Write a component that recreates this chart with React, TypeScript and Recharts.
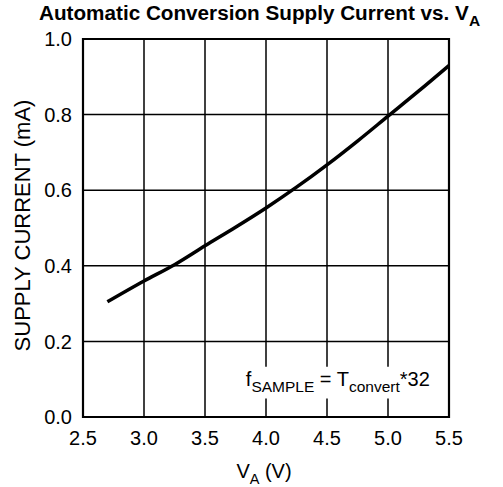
import { LineChart, Line, XAxis, YAxis, CartesianGrid, ReferenceArea } from "recharts";

const voltage = [2.7, 3.0, 3.25, 3.5, 3.75, 4.0, 4.25, 4.5, 4.75, 5.0, 5.25, 5.5];
const supplyCurrent = [0.305, 0.36, 0.403, 0.453, 0.502, 0.553, 0.608, 0.667, 0.73, 0.796, 0.862, 0.93];
const xTicks = [2.5, 3.0, 3.5, 4.0, 4.5, 5.0, 5.5];
const yTicks = [0, 0.2, 0.4, 0.6, 0.8, 1.0];

const data = voltage.map((v, i) => ({ v, i: supplyCurrent[i] }));
const FONT = "Arial, 'Liberation Sans', Helvetica, sans-serif";

function NoteLabel({ viewBox }: any) {
  const x = viewBox.x + 3;
  const y = viewBox.y + viewBox.height - 12;
  return (
    <text x={x} y={y} fontFamily={FONT} fontSize={20} fill="#000">
      <tspan>f</tspan>
      <tspan fontSize={15.5} dy={6}>SAMPLE</tspan>
      <tspan dy={-6}> = T</tspan>
      <tspan fontSize={15.5} dy={6}>convert</tspan>
      <tspan dy={-6}>*32</tspan>
    </text>
  );
}

export default function App() {
  return (
    <div style={{ position: "absolute", left: 0, top: 0, width: 503, height: 487, background: "#fff" }}>
      <svg width={503} height={487} style={{ position: "absolute", left: 0, top: 0 }}>
        <text x={39} y={19.5} fontFamily={FONT} fontSize={20.7} fontWeight="bold" fill="#000">
          Automatic Conversion Supply Current vs. V
          <tspan fontSize={15.5} dy={6}>A</tspan>
        </text>
        <text x={264} y={478} fontFamily={FONT} fontSize={20} textAnchor="middle" fill="#000">
          V<tspan fontSize={14.5} dy={6}>A</tspan>
          <tspan dy={-6}> (V)</tspan>
        </text>
        <text
          x={0}
          y={0}
          transform="translate(30,225.5) rotate(-90)"
          fontFamily={FONT}
          fontSize={22}
          textAnchor="middle"
          fill="#000"
        >
          SUPPLY CURRENT (mA)
        </text>
      </svg>
      <div style={{ position: "absolute", left: 0, top: 0 }}>
        <LineChart width={503} height={487} data={data} margin={{ top: 39, right: 54, bottom: 40, left: 23 }}>
          <CartesianGrid stroke="#000" strokeWidth={1.5} horizontalValues={yTicks} verticalValues={xTicks} />
          <XAxis
            type="number"
            dataKey="v"
            domain={[2.5, 5.5]}
            ticks={xTicks}
            tickFormatter={(t) => t.toFixed(1)}
            tick={{ fill: "#000", fontSize: 20, fontFamily: FONT }}
            tickLine={false}
            tickSize={0}
            tickMargin={14}
            axisLine={false}
            height={30}
          />
          <YAxis
            type="number"
            domain={[0, 1]}
            ticks={yTicks}
            tickFormatter={(t) => t.toFixed(1)}
            tick={{ fill: "#000", fontSize: 20, fontFamily: FONT }}
            tickLine={false}
            tickSize={0}
            tickMargin={11}
            axisLine={false}
            width={60}
          />
          <ReferenceArea x1={3.81} x2={5.4} y1={0.049} y2={0.133} fill="#fff" fillOpacity={1} stroke="none" label={<NoteLabel />} />
          <ReferenceArea x1={2.5} x2={5.5} y1={0} y2={1} fill="none" stroke="#000" strokeWidth={2.2} />
          <Line type="monotone" dataKey="i" stroke="#000" strokeWidth={3.5} dot={false} isAnimationActive={false} />
        </LineChart>
      </div>
    </div>
  );
}
